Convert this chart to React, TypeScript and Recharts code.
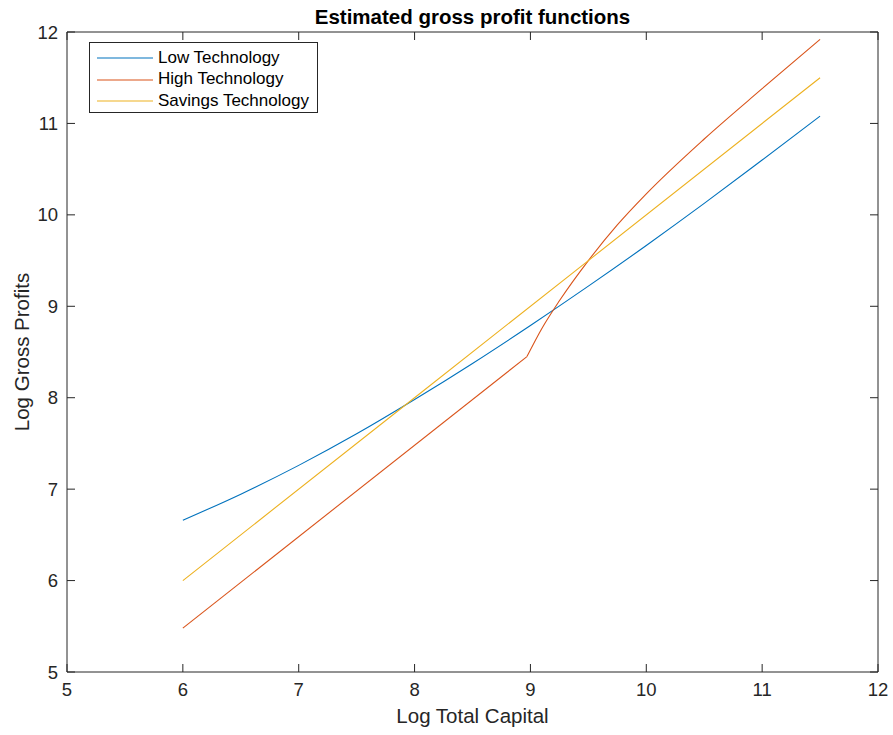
import { LineChart, Line, XAxis, YAxis } from "recharts"

// tick labels
const xTicks = [5, 6, 7, 8, 9, 10, 11, 12]
const yTicks = [5, 6, 7, 8, 9, 10, 11, 12]

// Low Technology
const lowCapital = [6, 6.5, 7, 7.5, 8, 8.5, 9, 9.5, 10, 10.5, 11, 11.5]
const lowProfit = [6.66, 6.945, 7.26, 7.605, 7.98, 8.375, 8.79, 9.22, 9.665, 10.125, 10.6, 11.08]

// High Technology: straight part up to the kink, then the curved part
const highCapital = [6, 8.97]
const highProfit = [5.48, 8.45]
const highCurveCapital = [8.97, 9.1, 9.25, 9.5, 9.75, 10, 10.5, 11, 11.5]
const highCurveProfit = [8.45, 8.76, 9.06, 9.5, 9.89, 10.23, 10.83, 11.38, 11.92]

// Savings Technology
const savingsCapital = [6, 8, 9.5, 11.5]
const savingsProfit = [6, 8, 9.5, 11.5]

const toRows = (xs: number[], ys: number[]) => xs.map((x, i) => ({ x, y: ys[i] }))

const series = [
  { name: "Low Technology", color: "#0072BD" },
  { name: "High Technology", color: "#D95319" },
  { name: "Savings Technology", color: "#EDB120" },
]

const lines = [
  { key: "low", color: "#0072BD", type: "monotone", data: toRows(lowCapital, lowProfit) },
  { key: "high", color: "#D95319", type: "linear", data: toRows(highCapital, highProfit) },
  { key: "highCurve", color: "#D95319", type: "monotone", data: toRows(highCurveCapital, highCurveProfit) },
  { key: "savings", color: "#EDB120", type: "linear", data: toRows(savingsCapital, savingsProfit) },
]

const font = "'Liberation Sans', Arial, Helvetica, sans-serif"
const axisColor = "#262626"
const tickLen = 8

const BottomTick = (props: any) => {
  const { x, y, payload } = props
  const axisY = y - 11
  return (
    <g>
      <line x1={x} x2={x} y1={axisY} y2={axisY - tickLen} stroke={axisColor} />
      <text x={x} y={y} dy="0.71em" textAnchor="middle" fill={axisColor} fontSize={18.5} fontFamily={font}>
        {payload.value}
      </text>
    </g>
  )
}

const LeftTick = (props: any) => {
  const { x, y, payload } = props
  const axisX = x + 9
  return (
    <g>
      <line x1={axisX} x2={axisX + tickLen} y1={y} y2={y} stroke={axisColor} />
      <text x={x} y={y} dy="0.355em" textAnchor="end" fill={axisColor} fontSize={18.5} fontFamily={font}>
        {payload.value}
      </text>
    </g>
  )
}

const TopTick = (props: any) => {
  const { x, y } = props
  return <line x1={x} x2={x} y1={y} y2={y + tickLen} stroke={axisColor} />
}

const RightTick = (props: any) => {
  const { x, y } = props
  return <line x1={x} x2={x - tickLen} y1={y} y2={y} stroke={axisColor} />
}

export default function App() {
  return (
    <div style={{ position: "absolute", left: 0, top: 0, width: 893, height: 735, background: "#fff", fontFamily: font }}>
      <LineChart width={893} height={735} margin={{ top: 31, right: 14, bottom: 0, left: 0 }}>
        <XAxis
          dataKey="x"
          type="number"
          domain={[5, 12]}
          ticks={xTicks}
          allowDataOverflow
          height={63}
          tickSize={0}
          tickMargin={11}
          tickLine={false}
          stroke={axisColor}
          tick={<BottomTick />}
        />
        <XAxis
          xAxisId="top"
          orientation="top"
          dataKey="x"
          type="number"
          domain={[5, 12]}
          ticks={xTicks}
          allowDataOverflow
          height={1}
          tickSize={0}
          tickMargin={0}
          tickLine={false}
          stroke={axisColor}
          tick={<TopTick />}
        />
        <YAxis
          type="number"
          domain={[5, 12]}
          ticks={yTicks}
          allowDataOverflow
          width={67}
          tickSize={0}
          tickMargin={9}
          tickLine={false}
          stroke={axisColor}
          tick={<LeftTick />}
        />
        <YAxis
          yAxisId="right"
          orientation="right"
          type="number"
          domain={[5, 12]}
          ticks={yTicks}
          allowDataOverflow
          width={1}
          tickSize={0}
          tickMargin={0}
          tickLine={false}
          stroke={axisColor}
          tick={<RightTick />}
        />
        {lines.map((l) => (
          <Line
            key={l.key}
            data={l.data}
            dataKey="y"
            type={l.type as any}
            stroke={l.color}
            strokeWidth={1.1}
            dot={false}
            activeDot={false}
            isAnimationActive={false}
          />
        ))}
      </LineChart>

      <div style={{ position: "absolute", left: 0, width: 945, top: 5, textAlign: "center", fontWeight: "bold", fontSize: 20.5, color: "#000" }}>
        Estimated gross profit functions
      </div>
      <div style={{ position: "absolute", left: 0, width: 945, top: 704, textAlign: "center", fontSize: 20.5, color: axisColor }}>
        Log Total Capital
      </div>
      <div
        style={{
          position: "absolute",
          left: 22,
          top: 352,
          transform: "translate(-50%, -50%) rotate(-90deg)",
          whiteSpace: "nowrap",
          fontSize: 20.5,
          color: axisColor,
        }}
      >
        Log Gross Profits
      </div>

      <div
        style={{
          position: "absolute",
          left: 89,
          top: 42,
          width: 229,
          height: 71,
          border: `1px solid ${axisColor}`,
          background: "#fff",
          boxSizing: "border-box",
        }}
      >
        {series.map((s, i) => (
          <div key={s.name} style={{ position: "absolute", left: 0, top: 4 + i * 21.5, height: 21, display: "flex", alignItems: "center" }}>
            <svg width={68} height={21} style={{ display: "block" }}>
              <line x1={7} x2={63} y1={11} y2={11} stroke={s.color} strokeWidth={1.1} />
            </svg>
            <span style={{ fontSize: 17, color: "#000", whiteSpace: "nowrap" }}>{s.name}</span>
          </div>
        ))}
      </div>
    </div>
  )
}
